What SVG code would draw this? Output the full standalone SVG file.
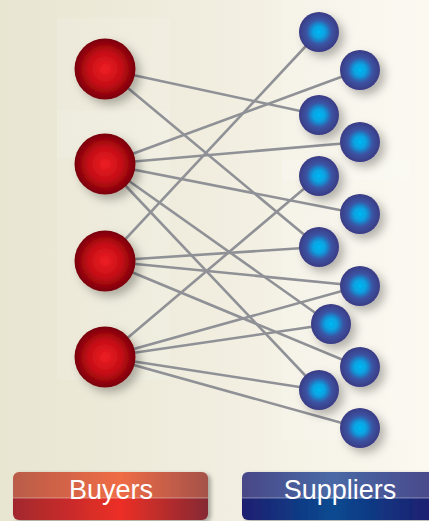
<svg xmlns="http://www.w3.org/2000/svg" width="429" height="521" viewBox="0 0 429 521">
<defs>
<linearGradient id="bg" x1="0" y1="0" x2="1" y2="0">
<stop offset="0" stop-color="#e8e5d1"/><stop offset="0.5" stop-color="#f1eee0"/><stop offset="1" stop-color="#fbf9f0"/>
</linearGradient>
<radialGradient id="red" cx="0.5" cy="0.5" r="0.5">
<stop offset="0" stop-color="#ee1f25"/><stop offset="0.55" stop-color="#c50d15"/><stop offset="1" stop-color="#780008"/>
</radialGradient>
<radialGradient id="blue" cx="0.5" cy="0.5" r="0.5">
<stop offset="0" stop-color="#00b8f2"/><stop offset="0.3" stop-color="#0aa2e2"/><stop offset="0.62" stop-color="#3a55a4"/><stop offset="1" stop-color="#3a3b84"/>
</radialGradient>
<linearGradient id="bTop" x1="0" y1="0" x2="1" y2="0">
<stop offset="0" stop-color="#b95c48"/><stop offset="0.55" stop-color="#ef6c45"/><stop offset="1" stop-color="#a4524a"/>
</linearGradient>
<linearGradient id="bBot" x1="0" y1="0" x2="1" y2="0">
<stop offset="0" stop-color="#a2282e"/><stop offset="0.55" stop-color="#ec2f26"/><stop offset="1" stop-color="#852a32"/>
</linearGradient>
<linearGradient id="sTop" x1="0" y1="0" x2="1" y2="0">
<stop offset="0" stop-color="#4a4888"/><stop offset="0.45" stop-color="#4a69a6"/><stop offset="1" stop-color="#4a4688"/>
</linearGradient>
<linearGradient id="sBot" x1="0" y1="0" x2="1" y2="0">
<stop offset="0" stop-color="#1f1f70"/><stop offset="0.45" stop-color="#074a90"/><stop offset="1" stop-color="#201a6c"/>
</linearGradient>
<filter id="sh" x="-50%" y="-50%" width="210%" height="210%">
<feDropShadow dx="5" dy="5" stdDeviation="5" flood-color="#000" flood-opacity="0.28"/>
</filter>
<filter id="bsh" x="-10%" y="-30%" width="120%" height="170%">
<feDropShadow dx="3" dy="2" stdDeviation="2" flood-color="#000" flood-opacity="0.3"/>
</filter>
<clipPath id="cb"><rect x="13" y="472" width="195" height="48" rx="6"/></clipPath>
<clipPath id="cs"><rect x="242" y="472" width="200" height="48" rx="6"/></clipPath>
</defs>
<style>
.edge{stroke:#8f9196;stroke-width:2.6;fill:none}
.buyer{fill:url(#red);filter:url(#sh)}
.sup{fill:url(#blue);filter:url(#sh)}
.lbl{font-family:"Liberation Sans",Arial,sans-serif;font-size:27px;fill:#ffffff;text-anchor:middle}
.sep{stroke:#ffffff;stroke-opacity:0.5;stroke-width:0.8}
</style>
<rect width="429" height="521" fill="url(#bg)"/>
<rect x="57" y="18" width="113" height="140" fill="#ffffff" opacity="0.12"/>
<rect x="57" y="110" width="113" height="270" fill="#ffffff" opacity="0.1"/>
<rect x="282" y="0" width="128" height="180" fill="#ffffff" opacity="0.15"/>
<rect x="282" y="160" width="128" height="280" fill="#ffffff" opacity="0.15"/>
<g id="connectors">
<line class="edge" x1="105" y1="69" x2="319" y2="115"/>
<line class="edge" x1="105" y1="69" x2="319" y2="247"/>
<line class="edge" x1="105" y1="164" x2="360" y2="70"/>
<line class="edge" x1="105" y1="164" x2="360" y2="142"/>
<line class="edge" x1="105" y1="164" x2="360" y2="214"/>
<line class="edge" x1="105" y1="164" x2="331" y2="324"/>
<line class="edge" x1="105" y1="164" x2="319" y2="390"/>
<line class="edge" x1="105" y1="261" x2="319" y2="32"/>
<line class="edge" x1="105" y1="261" x2="319" y2="247"/>
<line class="edge" x1="105" y1="261" x2="360" y2="286"/>
<line class="edge" x1="105" y1="261" x2="360" y2="367"/>
<line class="edge" x1="105" y1="357" x2="319" y2="176"/>
<line class="edge" x1="105" y1="357" x2="360" y2="286"/>
<line class="edge" x1="105" y1="357" x2="331" y2="324"/>
<line class="edge" x1="105" y1="357" x2="319" y2="390"/>
<line class="edge" x1="105" y1="357" x2="360" y2="428"/>
</g>
<g id="buyer1"><circle class="buyer" cx="105" cy="69" r="30.5"/></g>
<g id="buyer2"><circle class="buyer" cx="105" cy="164" r="30.5"/></g>
<g id="buyer3"><circle class="buyer" cx="105" cy="261" r="30.5"/></g>
<g id="buyer4"><circle class="buyer" cx="105" cy="357" r="30.5"/></g>
<g id="supplier1"><circle class="sup" cx="319" cy="32" r="20"/></g>
<g id="supplier2"><circle class="sup" cx="360" cy="70" r="20"/></g>
<g id="supplier3"><circle class="sup" cx="319" cy="115" r="20"/></g>
<g id="supplier4"><circle class="sup" cx="360" cy="142" r="20"/></g>
<g id="supplier5"><circle class="sup" cx="319" cy="176" r="20"/></g>
<g id="supplier6"><circle class="sup" cx="360" cy="214" r="20"/></g>
<g id="supplier7"><circle class="sup" cx="319" cy="247" r="20"/></g>
<g id="supplier8"><circle class="sup" cx="360" cy="286" r="20"/></g>
<g id="supplier9"><circle class="sup" cx="331" cy="324" r="20"/></g>
<g id="supplier10"><circle class="sup" cx="360" cy="367" r="20"/></g>
<g id="supplier11"><circle class="sup" cx="319" cy="390" r="20"/></g>
<g id="supplier12"><circle class="sup" cx="360" cy="428" r="20"/></g>
<g id="buyers-label">
<g filter="url(#bsh)">
<g clip-path="url(#cb)">
<rect x="13" y="472" width="195" height="26" fill="url(#bTop)"/>
<rect x="13" y="498" width="195" height="22" fill="url(#bBot)"/>
</g>
</g>
<line class="sep" x1="13" y1="498" x2="208" y2="498"/>
<text class="lbl" x="111" y="499">Buyers</text>
</g>
<g id="suppliers-label">
<g filter="url(#bsh)">
<g clip-path="url(#cs)">
<rect x="242" y="472" width="200" height="26" fill="url(#sTop)"/>
<rect x="242" y="498" width="200" height="22" fill="url(#sBot)"/>
</g>
</g>
<line class="sep" x1="242" y1="498" x2="429" y2="498"/>
<text class="lbl" x="340" y="499">Suppliers</text>
</g>
</svg>
